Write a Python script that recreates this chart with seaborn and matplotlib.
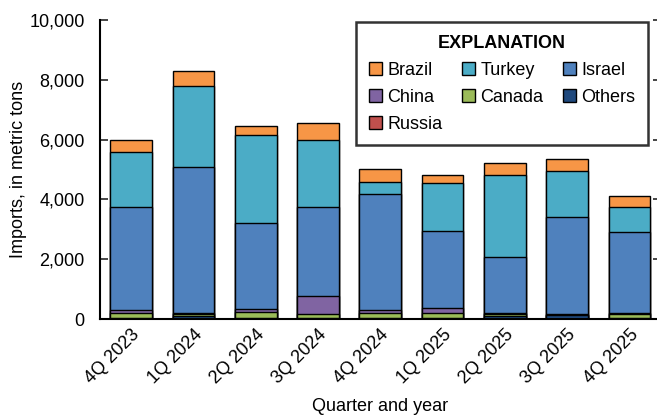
import numpy as np
import pandas as pd
import matplotlib
matplotlib.use('Agg')
import matplotlib.pyplot as plt
from matplotlib.patches import Patch
from matplotlib.ticker import FuncFormatter
import seaborn as sns

# values in metric tons
quarters = ['4Q 2023', '1Q 2024', '2Q 2024', '3Q 2024', '4Q 2024',
            '1Q 2025', '2Q 2025', '3Q 2025', '4Q 2025']
russia = [0, 0, 0, 0, 0, 0, 0, 0, 0]
others = [40, 90, 40, 30, 40, 40, 100, 130, 50]
canada = [150, 70, 200, 150, 160, 150, 70, 20, 120]
china = [100, 40, 90, 595, 90, 180, 20, 30, 20]
israel = [3470, 4880, 2880, 2980, 3890, 2560, 1890, 3220, 2720]
turkey = [1840, 2700, 2950, 2240, 400, 1610, 2720, 1560, 820]
brazil = [380, 500, 290, 560, 440, 290, 410, 380, 390]

# stack order, bottom to top
series = ['Russia', 'Others', 'Canada', 'China', 'Israel', 'Turkey', 'Brazil']
colors = {
    'Brazil': '#F79646', 'Turkey': '#4BACC6', 'Israel': '#4F81BD',
    'China': '#8064A2', 'Canada': '#9BBB59', 'Others': '#1F497D',
    'Russia': '#C0504D',
}

df = pd.DataFrame({'Quarter': quarters, 'Russia': russia, 'Others': others,
                   'Canada': canada, 'China': china, 'Israel': israel,
                   'Turkey': turkey, 'Brazil': brazil})
cum = df[series].cumsum(axis=1)
cum['Quarter'] = df['Quarter']

sns.set_style('white')
plt.rcParams['font.family'] = ['Liberation Sans', 'DejaVu Sans']
plt.rcParams['text.color'] = 'black'
plt.rcParams['axes.labelcolor'] = 'black'
fs = 13

fig = plt.figure(figsize=(6.57, 4.17), dpi=100)
ax = fig.add_axes([100 / 657, 98 / 417, 560.6 / 657, 299 / 417])

# draw cumulative totals from the top layer down so lower layers sit in front
for name in reversed(series):
    sns.barplot(data=cum, x='Quarter', y=name, color=colors[name],
                edgecolor='black', linewidth=1.0, width=0.67,
                saturation=1, ax=ax)

ax.set_xlim(-0.5, 8.5)
ax.set_ylim(0, 10000)
ax.set_yticks(np.arange(0, 10001, 2000))
ax.yaxis.set_major_formatter(FuncFormatter(lambda v, p: f'{int(v):,}'))
ax.set_ylabel('Imports, in metric tons', fontsize=fs, labelpad=2)
ax.set_xlabel('Quarter and year', fontsize=fs, labelpad=8)

ax.tick_params(axis='y', which='both', left=True, right=True, direction='in',
               length=6, width=1.2, labelsize=fs, pad=11, labelcolor='black')
ax.tick_params(axis='x', length=0, labelsize=fs, pad=5, labelcolor='black')
plt.setp(ax.get_xticklabels(), rotation=45, ha='right', rotation_mode='anchor')

for side in ['top', 'right']:
    ax.spines[side].set_visible(False)
for side in ['left', 'bottom']:
    ax.spines[side].set_color('black')
    ax.spines[side].set_linewidth(1.5)

legend_order = ['Brazil', 'China', 'Russia', 'Turkey', 'Canada', 'Israel', 'Others']
handles = [Patch(facecolor=colors[n], edgecolor='black', linewidth=1.0, label=n)
           for n in legend_order]
leg = ax.legend(handles=handles, ncol=3, loc='upper right',
                bbox_to_anchor=(0.977, 0.993), title='EXPLANATION',
                title_fontproperties={'weight': 'bold', 'size': fs},
                fontsize=fs, labelcolor='black', frameon=True, fancybox=False,
                handlelength=0.7, handleheight=0.7, handletextpad=0.3,
                columnspacing=1.1, labelspacing=0.55, borderpad=0.7,
                borderaxespad=0)
leg.get_title().set_color('black')
leg.get_frame().set_edgecolor('black')
leg.get_frame().set_linewidth(1.8)

fig.savefig('out.png', dpi=100)
